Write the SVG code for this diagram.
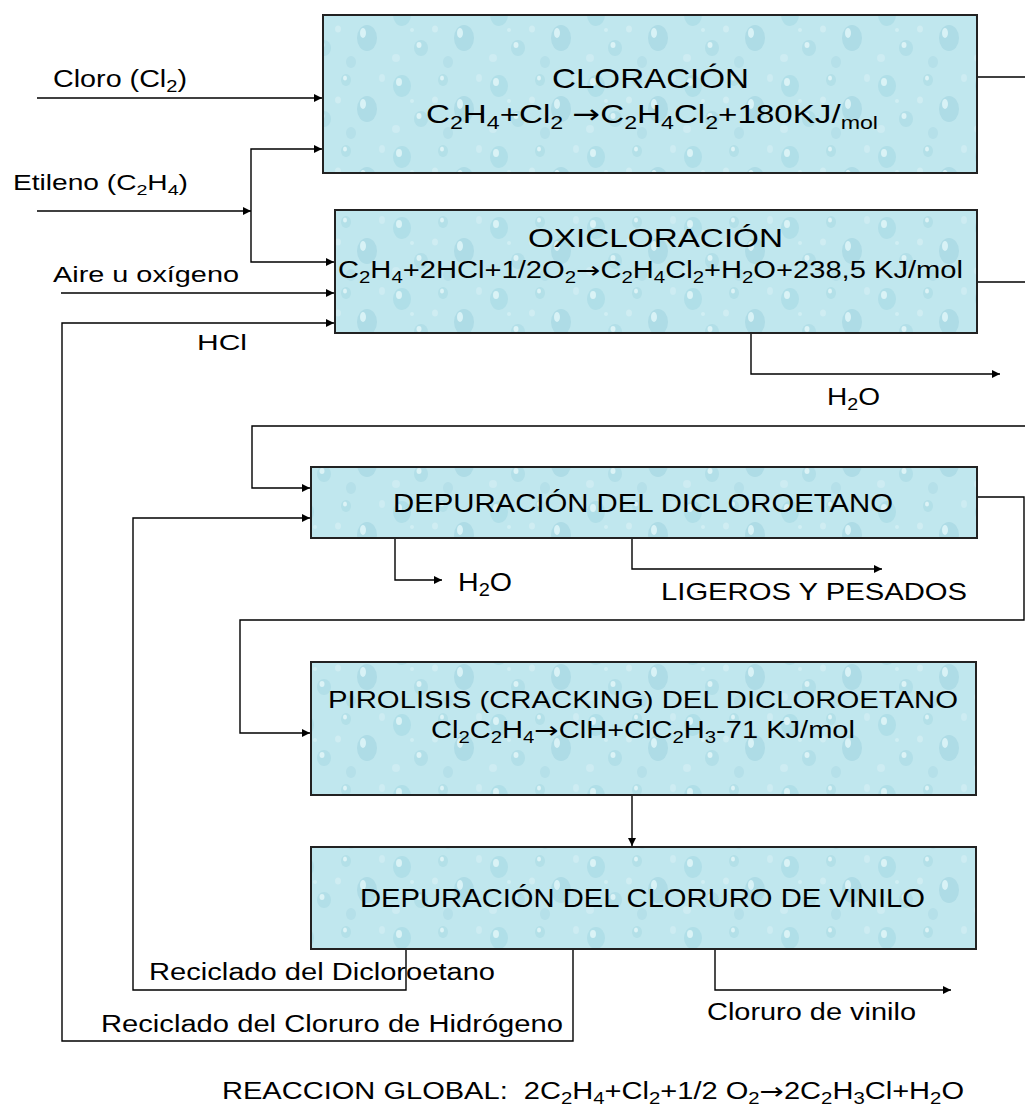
<svg xmlns="http://www.w3.org/2000/svg" width="1025" height="1108" viewBox="0 0 1025 1108">
<style>
text{font-family:"Liberation Sans",Arial,sans-serif;fill:#000;}
.box{fill:url(#drops);stroke:#222;stroke-width:2;}
.c{fill:none;stroke:#000;stroke-width:1.4;}
.a{marker-end:url(#ah);}
.s{font-size:70%;}
.ar{font-family:"DejaVu Sans",sans-serif;}
</style>
<defs>
<marker id="ah" viewBox="0 0 10 10" refX="10" refY="5" markerWidth="10" markerHeight="8" markerUnits="userSpaceOnUse" orient="auto">
<path d="M0,0 L10,5 L0,10 z" fill="#000"/>
</marker>
<pattern id="drops" width="97" height="71" patternUnits="userSpaceOnUse">
<rect width="97" height="71" fill="#c0e7ee"/>
<ellipse cx="14" cy="15" rx="9" ry="11" fill="#b0dfe8"/>
<ellipse cx="11" cy="11" rx="3" ry="4" fill="#daf3f6"/>
<ellipse cx="55" cy="9" rx="5" ry="6" fill="#b3e0e8"/>
<ellipse cx="54" cy="7" rx="2" ry="2.5" fill="#dcf3f6"/>
<ellipse cx="76" cy="38" rx="10" ry="13" fill="#aedce6"/>
<ellipse cx="72" cy="33" rx="3" ry="5" fill="#d8f2f6"/>
<ellipse cx="33" cy="48" rx="7" ry="8" fill="#b2dfe8"/>
<ellipse cx="31" cy="45" rx="2.5" ry="3" fill="#dbf3f6"/>
<ellipse cx="91" cy="7" rx="3" ry="4" fill="#cdecf2"/>
<ellipse cx="8" cy="58" rx="4" ry="4" fill="#cdecf2"/>
<ellipse cx="47" cy="29" rx="3" ry="3.5" fill="#cfedf2"/>
<ellipse cx="60" cy="62" rx="5" ry="6" fill="#b5e0e9"/>
<ellipse cx="24" cy="30" rx="2" ry="2" fill="#d0eef3"/>
</pattern>
</defs>

<g id="connectors">
<path class="c a" d="M37,98 H322"/>
<path class="c a" d="M37,211 H251"/>
<path class="c a" d="M251,211 V149 H322"/>
<path class="c a" d="M251,211 V262 H334"/>
<path class="c a" d="M61,293 H334"/>
<path class="c a" d="M573,949 V1041 H62 V323 H334"/>
<path class="c a" d="M977,77 H1033"/>
<path class="c a" d="M977,282 H1033"/>
<path class="c a" d="M751,333 V374 H1000"/>
<path class="c a" d="M1025,426 H252 V488 H310"/>
<path class="c a" d="M977,497 H1024 V620 H240 V733 H310"/>
<path class="c a" d="M395,538 V580 H442"/>
<path class="c a" d="M632,538 V569 H882"/>
<path class="c a" d="M632,795 V846"/>
<path class="c a" d="M406,949 V990 H133 V518 H310"/>
<path class="c a" d="M715,949 V990 H951"/>
</g>

<g id="labels">
<text x="53" y="87" font-size="23" textLength="134" lengthAdjust="spacingAndGlyphs">Cloro (Cl<tspan class="s" dy="5">2</tspan><tspan dy="-5">)</tspan></text>
<text x="13" y="190" font-size="22" textLength="175" lengthAdjust="spacingAndGlyphs">Etileno (C<tspan class="s" dy="5">2</tspan><tspan dy="-5">H</tspan><tspan class="s" dy="5">4</tspan><tspan dy="-5">)</tspan></text>
<text x="53" y="282" font-size="22" textLength="186" lengthAdjust="spacingAndGlyphs">Aire u oxígeno</text>
<text x="197" y="350" font-size="22" textLength="50" lengthAdjust="spacingAndGlyphs">HCl</text>
<text x="827" y="405" font-size="24" textLength="53" lengthAdjust="spacingAndGlyphs">H<tspan class="s" dy="5">2</tspan><tspan dy="-5">O</tspan></text>
<text x="458" y="591" font-size="25" textLength="54" lengthAdjust="spacingAndGlyphs">H<tspan class="s" dy="5">2</tspan><tspan dy="-5">O</tspan></text>
<text x="661" y="600" font-size="24" textLength="306" lengthAdjust="spacingAndGlyphs">LIGEROS Y PESADOS</text>
<text x="149" y="980" font-size="23" textLength="346" lengthAdjust="spacingAndGlyphs">Reciclado del Dicloroetano</text>
<text x="101" y="1032" font-size="23" textLength="462" lengthAdjust="spacingAndGlyphs">Reciclado del Cloruro de Hidrógeno</text>
<text x="707" y="1020" font-size="23" textLength="209" lengthAdjust="spacingAndGlyphs">Cloruro de vinilo</text>
<text x="222" y="1099" font-size="23" textLength="742" lengthAdjust="spacingAndGlyphs" xml:space="preserve">REACCION GLOBAL:  2C<tspan class="s" dy="5">2</tspan><tspan dy="-5">H</tspan><tspan class="s" dy="5">4</tspan><tspan dy="-5">+Cl</tspan><tspan class="s" dy="5">2</tspan><tspan dy="-5">+1/2 O</tspan><tspan class="s" dy="5">2</tspan><tspan class="ar" dy="-5">→</tspan><tspan>2C</tspan><tspan class="s" dy="5">2</tspan><tspan dy="-5">H</tspan><tspan class="s" dy="5">3</tspan><tspan dy="-5">Cl+H</tspan><tspan class="s" dy="5">2</tspan><tspan dy="-5">O</tspan></text>
</g>

<g id="cloracion">
<rect class="box" x="323" y="15" width="654" height="158"/>
<text x="552" y="88" font-size="28" textLength="197" lengthAdjust="spacingAndGlyphs">CLORACIÓN</text>
<text x="426" y="123" font-size="26" textLength="452" lengthAdjust="spacingAndGlyphs" xml:space="preserve">C<tspan class="s" dy="6">2</tspan><tspan dy="-6">H</tspan><tspan class="s" dy="6">4</tspan><tspan dy="-6">+Cl</tspan><tspan class="s" dy="6">2</tspan><tspan dy="-6"> </tspan><tspan class="ar">→</tspan><tspan>C</tspan><tspan class="s" dy="6">2</tspan><tspan dy="-6">H</tspan><tspan class="s" dy="6">4</tspan><tspan dy="-6">Cl</tspan><tspan class="s" dy="6">2</tspan><tspan dy="-6">+180KJ/</tspan><tspan class="s" dy="6">mol</tspan></text>
</g>

<g id="oxicloracion">
<rect class="box" x="335" y="210" width="642" height="123"/>
<text x="528" y="247" font-size="26.5" textLength="255" lengthAdjust="spacingAndGlyphs">OXICLORACIÓN</text>
<text x="338" y="278" font-size="23" textLength="625" lengthAdjust="spacingAndGlyphs">C<tspan class="s" dy="5">2</tspan><tspan dy="-5">H</tspan><tspan class="s" dy="5">4</tspan><tspan dy="-5">+2HCl+1/2O</tspan><tspan class="s" dy="5">2</tspan><tspan class="ar" dy="-5">→</tspan><tspan>C</tspan><tspan class="s" dy="5">2</tspan><tspan dy="-5">H</tspan><tspan class="s" dy="5">4</tspan><tspan dy="-5">Cl</tspan><tspan class="s" dy="5">2</tspan><tspan dy="-5">+H</tspan><tspan class="s" dy="5">2</tspan><tspan dy="-5">O+238,5 KJ/mol</tspan></text>
</g>

<g id="depuracion-dicloroetano">
<rect class="box" x="311" y="467" width="666" height="71"/>
<text x="393" y="512" font-size="25" textLength="500" lengthAdjust="spacingAndGlyphs">DEPURACIÓN DEL DICLOROETANO</text>
</g>

<g id="pirolisis">
<rect class="box" x="311" y="662" width="665" height="133"/>
<text x="328" y="708" font-size="24.5" textLength="630" lengthAdjust="spacingAndGlyphs">PIROLISIS (CRACKING) DEL DICLOROETANO</text>
<text x="431" y="738" font-size="23" textLength="424" lengthAdjust="spacingAndGlyphs">Cl<tspan class="s" dy="5">2</tspan><tspan dy="-5">C</tspan><tspan class="s" dy="5">2</tspan><tspan dy="-5">H</tspan><tspan class="s" dy="5">4</tspan><tspan class="ar" dy="-5">→</tspan><tspan>ClH+ClC</tspan><tspan class="s" dy="5">2</tspan><tspan dy="-5">H</tspan><tspan class="s" dy="5">3</tspan><tspan dy="-5">-71 KJ/mol</tspan></text>
</g>

<g id="depuracion-cloruro-vinilo">
<rect class="box" x="311" y="847" width="665" height="102"/>
<text x="360" y="907" font-size="25" textLength="565" lengthAdjust="spacingAndGlyphs">DEPURACIÓN DEL CLORURO DE VINILO</text>
</g>
</svg>
